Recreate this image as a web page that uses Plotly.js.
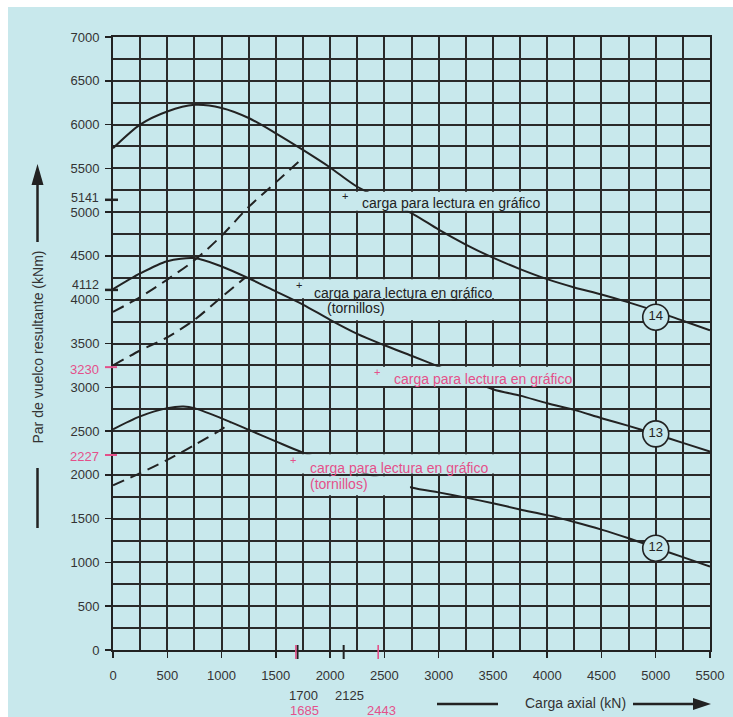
<!DOCTYPE html>
<html>
<head>
<meta charset="utf-8">
<script src="https://cdn.plot.ly/plotly-3.0.1.min.js"></script>
<style>html,body{margin:0;padding:0;background:#fff;}#chart{width:733px;height:717px;}</style>
</head>
<body>
<div id="chart"></div>
<script>
// ---- data ----
const curve14X = [0,250,500,750,1000,1250,1500,1750,2000,2250,2750,3000,3250,3500,3750,4000,4250,4500,4750,5000,5250,5500];
const curve14Y = [5730,6000,6150,6225,6190,6075,5900,5710,5510,5290,4990,4800,4630,4480,4350,4235,4140,4060,3970,3870,3760,3650];

const curve13X = [0,250,500,750,1000,1250,1500,1750,2000,2250,2500,2750,2950,3500,3750,4000,4250,4500,4750,5000,5250,5500];
const curve13Y = [4120,4300,4440,4475,4380,4245,4095,3945,3770,3610,3480,3360,3262,2978,2905,2818,2742,2647,2559,2465,2365,2266];

const curve12X = [0,250,500,650,750,1000,1250,1500,1750,2750,3000,3250,3500,3750,4000,4250,4500,4750,5000,5250,5500];
const curve12Y = [2520,2668,2762,2780,2762,2645,2515,2382,2254,1855,1800,1740,1676,1605,1540,1462,1375,1276,1168,1060,952];

const dashAX = [0,250,500,750,1000,1250,1500,1750];
const dashAY = [3860,4030,4230,4450,4730,5060,5340,5620];
const dashBX = [0,250,500,750,1000,1220];
const dashBY = [3250,3420,3570,3770,4030,4255];
const dashCX = [0,250,500,750,1000,1080];
const dashCY = [1880,2020,2170,2340,2520,2600];

const curveLabels = ['14','13','12'];
const curveLabelX = [5000,5000,5000];
const curveLabelY = [3800,2468,1162];

const blackYMarks = [5141,4112];
const pinkYMarks  = [3230,2227];
const blackXMarks = [1700,2125];
const pinkXMarks  = [1685,2443];

const boxText = 'carga para lectura en gráfico';
const boxSub  = '(tornillos)';
const yTitle = 'Par de vuelco resultante (kNm)';
const xTitle = 'Carga axial (kN)';

// ---- styling ----
const BG = '#c8e8ec';
const INK = '#222222';
const GRID = '#2a2a2a';
const TXT = '#333333';
const PINK = '#e4508a';
const FONT = 'Liberation Sans, Arial, sans-serif';
const px2x = p => (p - 113) / 597;
const py2y = p => (650 - p) / 613;

const solid = {color: INK, width: 2, shape: 'spline', smoothing: 0.8};
const dashed = {color: INK, width: 2, dash: '12px,7px', shape: 'spline', smoothing: 0.8};

const traces = [
  {x: curve14X, y: curve14Y, mode: 'lines', line: solid, hoverinfo: 'skip'},
  {x: curve13X, y: curve13Y, mode: 'lines', line: solid, hoverinfo: 'skip'},
  {x: curve12X, y: curve12Y, mode: 'lines', line: solid, hoverinfo: 'skip'},
  {x: dashAX, y: dashAY, mode: 'lines', line: dashed, hoverinfo: 'skip'},
  {x: dashBX, y: dashBY, mode: 'lines', line: dashed, hoverinfo: 'skip'},
  {x: dashCX, y: dashCY, mode: 'lines', line: dashed, hoverinfo: 'skip'},
  {x: curveLabelX, y: curveLabelY, mode: 'markers+text', text: curveLabels,
   textposition: 'middle center', textfont: {family: FONT, size: 13, color: '#222'},
   marker: {symbol: 'circle', size: 26, color: BG, line: {color: INK, width: 1.6}}, hoverinfo: 'skip'}
];

function rect(x0, x1, y0, y1, layer) {
  return {type: 'rect', xref: 'x', yref: 'y', x0: x0 + 14, x1: x1 - 14, y0: y0 + 16, y1: y1 - 16,
          fillcolor: BG, line: {width: 0}, layer: layer};
}

const shapes = [
  // coloured page background (white strip on top and left)
  {type: 'rect', xref: 'paper', yref: 'paper', x0: px2x(8), x1: 1.2, y0: -0.3, y1: py2y(7),
   fillcolor: BG, line: {width: 0}, layer: 'below'},
  // label boxes covering the grid
  rect(2000, 4000, 5000, 5250, 'above'),
  rect(1500, 3750, 4000, 4250, 'between'),
  rect(1750, 3750, 3750, 4000, 'between'),
  rect(2250, 4250, 3000, 3250, 'above'),
  rect(1500, 3750, 2000, 2250, 'above'),
  rect(1750, 2750, 1750, 2000, 'above'),
  // axis title decorations
  {type: 'line', xref: 'paper', yref: 'paper', x0: px2x(37.5), x1: px2x(37.5), y0: py2y(183), y1: py2y(242), line: {color: INK, width: 2.5}},
  {type: 'path', xref: 'paper', yref: 'paper', path: `M ${px2x(37.5)},${py2y(164)} L ${px2x(31.5)},${py2y(185)} L ${px2x(43.5)},${py2y(185)} Z`, fillcolor: INK, line: {width: 0}},
  {type: 'line', xref: 'paper', yref: 'paper', x0: px2x(37.5), x1: px2x(37.5), y0: py2y(468), y1: py2y(528), line: {color: INK, width: 2.5}},
  {type: 'line', xref: 'paper', yref: 'paper', x0: px2x(437), x1: px2x(498), y0: py2y(704), y1: py2y(704), line: {color: INK, width: 2.5}},
  {type: 'line', xref: 'paper', yref: 'paper', x0: px2x(633), x1: px2x(695), y0: py2y(704), y1: py2y(704), line: {color: INK, width: 2.5}},
  {type: 'path', xref: 'paper', yref: 'paper', path: `M ${px2x(711)},${py2y(704)} L ${px2x(693)},${py2y(698)} L ${px2x(693)},${py2y(710)} Z`, fillcolor: INK, line: {width: 0}}
];

blackYMarks.forEach(v => shapes.push({type: 'line', xref: 'paper', yref: 'y', x0: px2x(105), x1: px2x(118), y0: v, y1: v, line: {color: INK, width: 2.5}}));
pinkYMarks.forEach(v => shapes.push({type: 'line', xref: 'paper', yref: 'y', x0: px2x(105), x1: px2x(117), y0: v, y1: v, line: {color: PINK, width: 2}}));
blackXMarks.forEach(v => shapes.push({type: 'line', xref: 'x', yref: 'paper', x0: v, x1: v, y0: py2y(659), y1: py2y(645), line: {color: INK, width: 2}}));
pinkXMarks.forEach(v => shapes.push({type: 'line', xref: 'x', yref: 'paper', x0: v, x1: v, y0: py2y(659), y1: py2y(645), line: {color: PINK, width: 1.6}}));

const annotations = [];
blackYMarks.forEach((v, i) => annotations.push({xref: 'paper', yref: 'y', x: px2x(101), y: v, yshift: i === 0 ? 2 : 5, xanchor: 'right', yanchor: 'middle', text: String(v), showarrow: false, font: {family: FONT, size: 12.5, color: TXT}}));
pinkYMarks.forEach(v => annotations.push({xref: 'paper', yref: 'y', x: px2x(101), y: v, yshift: -2, xanchor: 'right', yanchor: 'middle', text: String(v), showarrow: false, font: {family: FONT, size: 13, color: PINK}}));
blackXMarks.forEach(v => annotations.push({xref: 'x', yref: 'paper', x: v, y: py2y(695), xshift: 6, xanchor: 'center', yanchor: 'middle', text: String(v), showarrow: false, font: {family: FONT, size: 13, color: TXT}}));
pinkXMarks.forEach(v => annotations.push({xref: 'x', yref: 'paper', x: v, y: py2y(710), xshift: v < 2000 ? 9 : 3, xanchor: 'center', yanchor: 'middle', text: String(v), showarrow: false, font: {family: FONT, size: 13, color: PINK}}));

function note(x, y, text, color, size) {
  annotations.push({xref: 'x', yref: 'y', x: x, y: y, xanchor: 'left', yanchor: 'middle', text: text, showarrow: false,
                    font: {family: FONT, size: size || 14, color: color}});
}
function plus(x, y, color) {
  annotations.push({xref: 'x', yref: 'y', x: x, y: y, xanchor: 'center', yanchor: 'middle', text: '+', showarrow: false,
                    font: {family: FONT, size: 11, color: color}});
}
// box A (black)
plus(2137, 5179, INK); note(2276, 5103, boxText, '#222');
// box B (black, tornillos)
plus(1713, 4170, INK); note(1830, 4075, boxText, '#222'); note(1953, 3905, boxSub, '#222');
// box C (pink)
plus(2429, 3180, PINK); note(2567, 3093, boxText, PINK);
// box D (pink, tornillos)
plus(1661, 2171, PINK); note(1799, 2076, boxText, PINK); note(1799, 1893, boxSub, PINK);

annotations.push({xref: 'paper', yref: 'paper', x: px2x(37), y: py2y(347.5), textangle: -90, xanchor: 'center', yanchor: 'middle',
                  text: yTitle, showarrow: false, font: {family: FONT, size: 14, color: TXT}});
annotations.push({xref: 'paper', yref: 'paper', x: px2x(575), y: py2y(703), xanchor: 'center', yanchor: 'middle',
                  text: xTitle, showarrow: false, font: {family: FONT, size: 14, color: TXT}});

const axisCommon = {
  ticks: 'outside', ticklen: 6, tickwidth: 1.5, tickcolor: INK,
  showline: true, mirror: true, linecolor: INK, linewidth: 2,
  showgrid: true, gridcolor: GRID, gridwidth: 2, zeroline: false,
  tickfont: {family: FONT, size: 13, color: TXT}, fixedrange: true,
  minor: {dtick: 250, showgrid: true, gridcolor: GRID, gridwidth: 2, ticks: ''}
};

const layout = {
  width: 733, height: 717,
  margin: {l: 113, r: 23, t: 37, b: 67, pad: 0},
  paper_bgcolor: '#ffffff', plot_bgcolor: BG,
  showlegend: false,
  font: {family: FONT},
  xaxis: Object.assign({}, axisCommon, {range: [0, 5500], tick0: 0, dtick: 500, ticklabelstandoff: 6}),
  yaxis: Object.assign({}, axisCommon, {range: [0, 7000], tick0: 0, dtick: 500, ticklabelstandoff: 3}),
  shapes: shapes,
  annotations: annotations
};

Plotly.newPlot('chart', traces, layout, {displayModeBar: false, staticPlot: true});
</script>
</body>
</html>
